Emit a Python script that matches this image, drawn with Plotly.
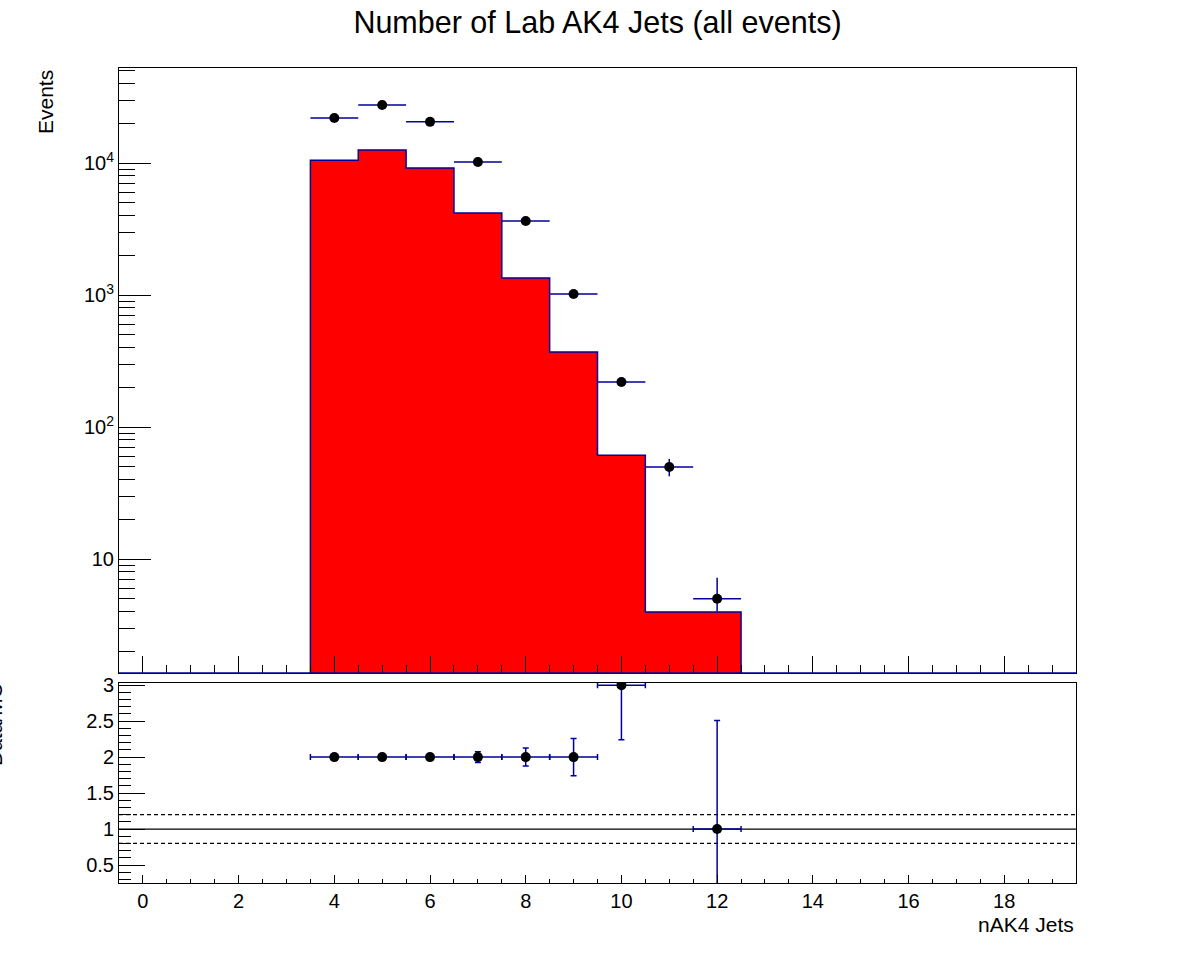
import plotly.graph_objects as go

# nAK4 jet multiplicity bins
bins = [4, 5, 6, 7, 8, 9, 10, 11, 12]
mc = [10500, 12550, 9170, 4180, 1345, 370, 61, 3.96, 3.96]
data = [21900, 27500, 20500, 10170, 3640, 1018, 219, 49.8, 5.0]
data_err_up = [148, 166, 143, 101, 60, 32, 15, 7.5, 2.2]
data_err_dn = [148, 166, 143, 101, 60, 32, 15, 7.5, 1.0]

ratio = [2, 2, 2, 2, 2, 2, 3.0, None, 1]
ratio_err_up = [0.03, 0.03, 0.04, 0.074, 0.125, 0.26, 0.8, 0, 1.51]
ratio_err_dn = [0.03, 0.03, 0.04, 0.074, 0.125, 0.26, 0.76, 0, 1.51]

half_width = [0.5] * len(bins)

navy = '#000099'
font = 'Liberation Sans, Arial, sans-serif'
ylog_range = [0.1364, 4.7197]

# histogram outline (step)
edges = [b - 0.5 for b in bins] + [bins[-1] + 0.5]
floor = 10 ** ylog_range[0] * 0.5
xs = [edges[0]] + edges[:-1] + [edges[-1], edges[-1]]
ys = [floor] + mc + [mc[-1], floor]

fig = go.Figure()
fig.add_trace(go.Bar(x=bins, y=mc, width=1, marker=dict(color='red', line=dict(width=0)),
                     xaxis='x', yaxis='y', showlegend=False))
fig.add_trace(go.Scatter(x=xs, y=ys, mode='lines', line=dict(color=navy, width=1.5, shape='hv'),
                         xaxis='x', yaxis='y', showlegend=False, hoverinfo='skip'))
fig.add_trace(go.Scatter(x=bins, y=data, mode='markers',
                         marker=dict(color='black', size=10, symbol='circle'),
                         error_y=dict(type='data', array=data_err_up, arrayminus=data_err_dn,
                                      color=navy, thickness=1.5, width=0),
                         error_x=dict(type='data', array=half_width, color=navy, thickness=1.5, width=0),
                         xaxis='x', yaxis='y', showlegend=False))
fig.add_trace(go.Scatter(x=bins, y=ratio, mode='markers',
                         marker=dict(color='black', size=10, symbol='circle'),
                         error_y=dict(type='data', array=ratio_err_up, arrayminus=ratio_err_dn,
                                      color=navy, thickness=1.5, width=3),
                         error_x=dict(type='data', array=half_width, color=navy, thickness=1.5, width=3),
                         xaxis='x2', yaxis='y2', showlegend=False, cliponaxis=True))

minor_log = [m * 10 ** k for k in range(0, 5) for m in range(2, 10)]

tick_font = dict(family=font, size=20, color='black')
common_x = dict(range=[-0.5, 19.5], tick0=0, dtick=2, ticks='inside', showline=True, mirror=True,
                linecolor='black', linewidth=1, showgrid=False, zeroline=False, tickcolor='black',
                tickfont=tick_font, automargin=False)

fig.update_layout(
    width=1196, height=972, autosize=False,
    margin=dict(l=119, r=120, t=68, b=89),
    paper_bgcolor='white', plot_bgcolor='white',
    font=dict(family=font, color='black'),
    bargap=0,
    title=dict(text='Number of Lab AK4 Jets (all events)', x=0.5, xref='paper', y=1 - 22 / 972,
               yanchor='middle', font=dict(family=font, size=30.5, color='black'), automargin=False),
    xaxis=dict(common_x, anchor='y', domain=[0, 1], showticklabels=False, ticklen=17,
               minor=dict(dtick=0.5, tick0=0, ticks='inside', ticklen=8, tickcolor='black')),
    yaxis=dict(type='log', range=ylog_range, domain=[210 / 815, 1], anchor='x',
               tickvals=[10, 100, 1000, 10000],
               ticktext=['10', '10<sup>2</sup>', '10<sup>3</sup>', '10<sup>4</sup>'],
               ticks='inside', ticklen=32, tickcolor='black', showline=True, mirror=True,
               linecolor='black', linewidth=1, showgrid=False, zeroline=False,
               tickfont=tick_font, automargin=False,
               minor=dict(tickmode='array', tickvals=minor_log, ticks='inside', ticklen=16,
                          tickcolor='black')),
    xaxis2=dict(common_x, anchor='y2', domain=[0, 1], ticklen=8,
                minor=dict(dtick=0.5, tick0=0, ticks='inside', ticklen=4, tickcolor='black')),
    yaxis2=dict(range=[0.25, 3.03], domain=[0, 200 / 815], anchor='x2', tick0=0, dtick=0.5,
                ticks='inside', ticklen=26, tickcolor='black', showline=True, mirror=True,
                linecolor='black', linewidth=1, showgrid=False, zeroline=False,
                tickfont=tick_font, automargin=False,
                minor=dict(dtick=0.1, tick0=0, ticks='inside', ticklen=12, tickcolor='black')),
)

# reference lines in ratio pad
fig.add_shape(type='line', xref='x2 domain', yref='y2', x0=0, x1=1, y0=1, y1=1,
              line=dict(color='black', width=1.2), layer='below')
for lvl in [1.2, 0.8]:
    fig.add_shape(type='line', xref='x2 domain', yref='y2', x0=0, x1=1, y0=lvl, y1=lvl,
                  line=dict(color='black', width=1.2, dash='4px,3px'), layer='below')

# histogram baseline along bottom of top pad
fig.add_shape(type='line', xref='x domain', yref='y domain', x0=0, x1=1, y0=0, y1=0,
              line=dict(color=navy, width=1.5), layer='above')

fig.add_annotation(text='Events', xref='paper', yref='paper', x=(45 - 119) / 957, y=1,
                   xanchor='center', yanchor='top', textangle=-90, showarrow=False,
                   font=dict(family=font, size=21, color='black'))
fig.add_annotation(text='Data/MC', xref='paper', yref='paper', x=(-6 - 119) / 957,
                   y=(883 - 725) / 815, xanchor='center', yanchor='middle', textangle=-90,
                   showarrow=False, font=dict(family=font, size=21, color='black'))
fig.add_annotation(text='nAK4 Jets', xref='paper', yref='paper', x=1, y=(883 - 924) / 815,
                   xanchor='right', yanchor='middle', showarrow=False,
                   font=dict(family=font, size=21, color='black'))

fig.write_html("out.html", config={'displayModeBar': False},
               post_script="document.body.style.margin='0';")
